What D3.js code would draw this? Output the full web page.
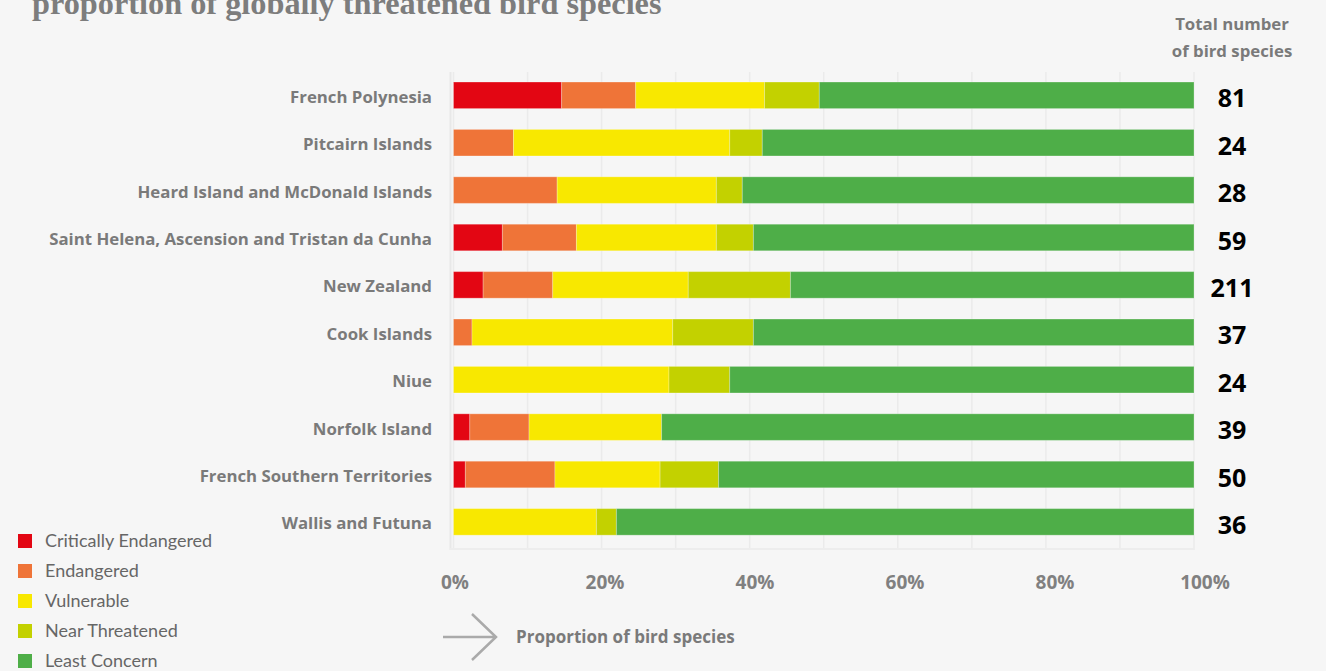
<!DOCTYPE html>
<html>
<head>
<meta charset="utf-8">
<script src="https://cdn.jsdelivr.net/npm/d3@7"></script>
<style>
  html, body { margin: 0; padding: 0; background: #f6f6f6; }
  svg { display: block; }
</style>
</head>
<body>
<svg id="chart" width="1326" height="671"></svg>
<script>
const categories = [
  "French Polynesia",
  "Pitcairn Islands",
  "Heard Island and McDonald Islands",
  "Saint Helena, Ascension and Tristan da Cunha",
  "New Zealand",
  "Cook Islands",
  "Niue",
  "Norfolk Island",
  "French Southern Territories",
  "Wallis and Futuna"
];
const totals = [81, 24, 28, 59, 211, 37, 24, 39, 50, 36];

const seriesNames = ["Critically Endangered", "Endangered", "Vulnerable", "Near Threatened", "Least Concern"];
const seriesColors = ["#e30613", "#ef7438", "#f8e800", "#c3d100", "#4eae48"];

// percentages
const criticallyEndangered = [14.6, 0, 0, 6.6, 4.0, 0, 0, 2.2, 1.6, 0];
const endangered           = [10.0, 8.1, 14.0, 10.0, 9.4, 2.5, 0, 8.0, 12.1, 0];
const vulnerable           = [17.4, 29.2, 21.5, 18.9, 18.3, 27.1, 29.1, 17.9, 14.2, 19.3];
const nearThreatened       = [7.4, 4.4, 3.5, 5.0, 13.8, 10.9, 8.2, 0, 7.9, 2.7];
const leastConcern         = [50.6, 58.3, 61.0, 59.5, 54.5, 59.5, 62.7, 71.9, 64.2, 78.0];

const tickValues = [0, 20, 40, 60, 80, 100];
const tickLabels = ["0%", "20%", "40%", "60%", "80%", "100%"];
const gridValues = [0, 10, 20, 30, 40, 50, 60, 70, 80, 90, 100];

const seriesValues = [criticallyEndangered, endangered, vulnerable, nearThreatened, leastConcern];
const rows = categories.map((c, i) => {
  const r = { category: c, total: totals[i] };
  seriesNames.forEach((s, j) => r[s] = seriesValues[j][i]);
  return r;
});

const svg = d3.select("#chart");

const x = d3.scaleLinear().domain([0, 100]).range([453.5, 1194]);
const xLabel = d3.scaleLinear().domain([0, 100]).range([455, 1205]);
const y = d3.scaleBand().domain(categories).range([71.6, 545.6]).paddingInner(0.44).paddingOuter(0.22);
const color = d3.scaleOrdinal().domain(seriesNames).range(seriesColors);

// title (partially cut off at top)
svg.append("text")
  .attr("x", 32).attr("y", 14)
  .attr("font-family", "'Liberation Serif', serif")
  .attr("font-weight", "bold")
  .attr("font-size", 32.3)
  .attr("fill", "#7d7d7d")
  .text("proportion of globally threatened bird species");

// grid
svg.append("g").selectAll("line").data(gridValues).join("line")
  .attr("x1", d => x(d)).attr("x2", d => x(d))
  .attr("y1", 72).attr("y2", 550)
  .attr("stroke", "#ebebeb").attr("stroke-width", 1.5);
svg.append("line")
  .attr("x1", 450.5).attr("x2", 450.5).attr("y1", 72).attr("y2", 550)
  .attr("stroke", "#e8e8e8").attr("stroke-width", 2);
svg.append("line")
  .attr("x1", 450).attr("x2", 1194).attr("y1", 549).attr("y2", 549)
  .attr("stroke", "#ededed").attr("stroke-width", 2);

// bars
const stack = d3.stack().keys(seriesNames);
const stacked = stack(rows);
svg.append("g").selectAll("g").data(stacked).join("g")
  .attr("fill", d => color(d.key))
  .selectAll("rect").data(d => d.filter(p => p[1] - p[0] > 0)).join("rect")
  .attr("x", d => x(d[0]))
  .attr("width", d => x(d[1]) - x(d[0]))
  .attr("y", d => y(d.data.category))
  .attr("height", y.bandwidth())
  .attr("stroke", "rgba(255,255,255,0.25)")
  .attr("stroke-width", 1);

// category labels
svg.append("g").selectAll("text").data(categories).join("text")
  .attr("x", 432)
  .attr("y", d => y(d) + y.bandwidth() / 2 + 7.5)
  .attr("text-anchor", "end")
  .attr("font-family", "'Open Sans', sans-serif")
  .attr("font-weight", "bold")
  .attr("font-size", 16.8)
  .attr("fill", "#7a7a7a")
  .text(d => d);

// totals
svg.append("g").selectAll("text").data(rows).join("text")
  .attr("x", 1232)
  .attr("y", d => y(d.category) + y.bandwidth() / 2 + 12)
  .attr("text-anchor", "middle")
  .attr("font-family", "'Open Sans', sans-serif")
  .attr("font-weight", "bold")
  .attr("font-size", 25)
  .attr("fill", "#000")
  .text(d => d.total);

svg.append("text")
  .attr("x", 1232).attr("y", 30)
  .attr("text-anchor", "middle")
  .attr("font-family", "'Open Sans', sans-serif")
  .attr("font-weight", "bold")
  .attr("font-size", 16.8)
  .attr("fill", "#7a7a7a")
  .selectAll("tspan").data(["Total number", "of bird species"]).join("tspan")
  .attr("x", 1232).attr("dy", (d, i) => i === 0 ? 0 : 27)
  .text(d => d);

// x tick labels
svg.append("g").selectAll("text").data(tickValues).join("text")
  .attr("x", d => xLabel(d))
  .attr("y", 589)
  .attr("text-anchor", "middle")
  .attr("font-family", "'Open Sans', sans-serif")
  .attr("font-weight", "bold")
  .attr("font-size", 19)
  .attr("fill", "#808080")
  .text((d, i) => tickLabels[i]);

// arrow + axis title
svg.append("path")
  .attr("d", "M443,637 H496 M472,614 L496,637 L472,660")
  .attr("fill", "none")
  .attr("stroke", "#aaa")
  .attr("stroke-width", 2.5);
svg.append("text")
  .attr("x", 516).attr("y", 643)
  .attr("font-family", "'Open Sans', sans-serif")
  .attr("font-weight", "bold")
  .attr("font-size", 17)
  .attr("fill", "#7a7a7a")
  .text("Proportion of bird species");

// legend
const legend = svg.append("g").selectAll("g").data(seriesNames).join("g")
  .attr("transform", (d, i) => `translate(18, ${541 + i * 30})`);
legend.append("rect")
  .attr("x", 0).attr("y", -7).attr("width", 14).attr("height", 14)
  .attr("fill", d => color(d));
legend.append("text")
  .attr("x", 27).attr("y", 6)
  .attr("font-family", "Lato, sans-serif")
  .attr("font-size", 18)
  .attr("fill", "#666")
  .text(d => d);
</script>
</body>
</html>
